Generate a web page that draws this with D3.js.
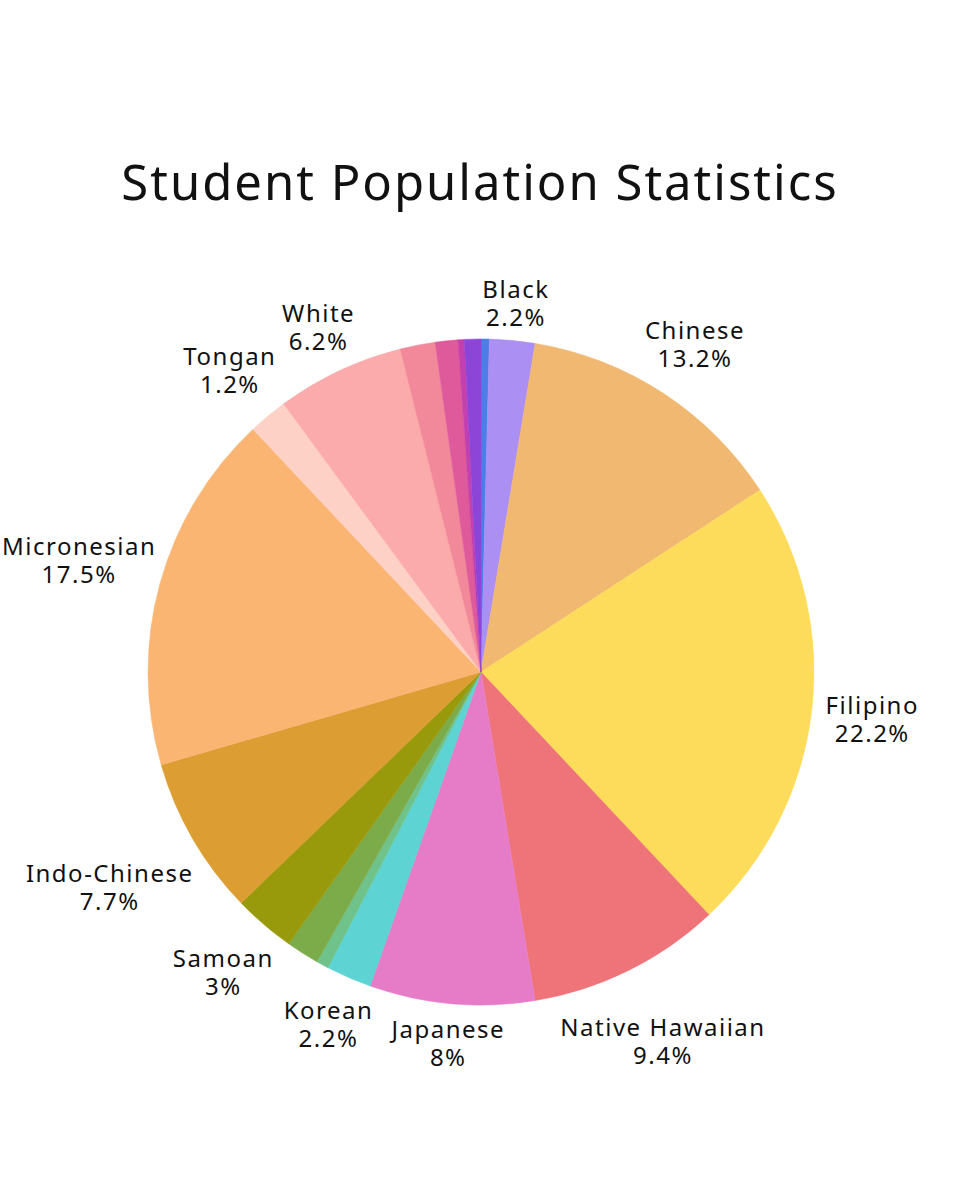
<!DOCTYPE html>
<html>
<head>
<meta charset="utf-8">
<script src="https://cdn.jsdelivr.net/npm/d3@7"></script>
<style>
  body { margin: 0; background: #fff; }
  text { font-family: "Noto Sans", "Open Sans", sans-serif; fill: #111; }
</style>
</head>
<body>
<div id="chart"></div>
<script>
// slices clockwise from 12 o'clock, unlabeled ones have empty names
const groups = ["", "Black", "Chinese", "Filipino", "Native Hawaiian", "Japanese", "Korean", "", "",
                "Samoan", "Indo-Chinese", "Micronesian", "Tongan", "White", "", "", "", ""];
const shares = [0.4, 2.2, 13.2, 22.2, 9.4, 8, 2.2, 0.6, 1.6, 3, 7.7, 17.5, 1.9, 6.2, 1.7, 1.1, 0.3, 0.8];
const shareLabels = ["", "2.2%", "13.2%", "22.2%", "9.4%", "8%", "2.2%", "", "",
                     "3%", "7.7%", "17.5%", "1.2%", "6.2%", "", "", "", ""];
const colors = ["#4d7ee8", "#ab8ff2", "#f0b870", "#fddc5c", "#ee7479", "#e67cc8", "#5dd3d3", "#6fc28a", "#7cab4a",
                "#999a0b", "#dc9d33", "#fbb572", "#fdd1c5", "#fbabab", "#f2899b", "#df5a9b", "#c440ae", "#8d45d8"];

const W = 960, H = 1200;
const cx = 481, cy = 672, radius = 333;

const svg = d3.select("#chart").append("svg")
    .attr("width", W)
    .attr("height", H);

svg.append("text")
    .attr("x", W / 2)
    .attr("y", 200)
    .attr("text-anchor", "middle")
    .style("font-size", "49px")
    .style("letter-spacing", "2px")
    .text("Student Population Statistics");

const data = groups.map((g, i) => ({ name: g, value: shares[i], label: shareLabels[i], color: colors[i] }));

const pie = d3.pie()
    .sort(null)
    .value(d => d.value)
    .startAngle(0)
    .endAngle(2 * Math.PI);

const arc = d3.arc().innerRadius(0).outerRadius(radius);

const g = svg.append("g").attr("transform", "translate(" + cx + "," + cy + ")");

const arcs = pie(data);

g.selectAll("path.slice")
    .data(arcs)
    .enter().append("path")
    .attr("class", "slice")
    .attr("fill", d => d.data.color)
    .attr("stroke", d => d.data.color)
    .attr("stroke-width", 0.5)
    .attr("d", arc);

// outside labels, pushed out until the text box clears the rim
const pad = 12, halfH = 23, edge = 2;
arcs.filter(d => d.data.name).forEach(d => {
    const t = g.append("text")
        .attr("text-anchor", "middle")
        .style("font-size", "24px")
        .style("letter-spacing", "1.5px");
    const t1 = t.append("tspan").attr("x", 0).attr("y", -5).text(d.data.name);
    const t2 = t.append("tspan").attr("x", 0).attr("y", 23).text(d.data.label);
    const w = Math.max(t1.node().getComputedTextLength(), t2.node().getComputedTextLength());
    const a = (d.startAngle + d.endAngle) / 2;
    const s = Math.sin(a), c = -Math.cos(a);
    const R = radius + pad + Math.abs(s) * w / 2 + Math.abs(c) * halfH;
    let x = R * s;
    // keep the label inside the picture
    x = Math.max(x, edge + w / 2 - cx);
    x = Math.min(x, W - edge - w / 2 - cx);
    t.attr("transform", "translate(" + x + "," + (R * c) + ")");
});
</script>
</body>
</html>
